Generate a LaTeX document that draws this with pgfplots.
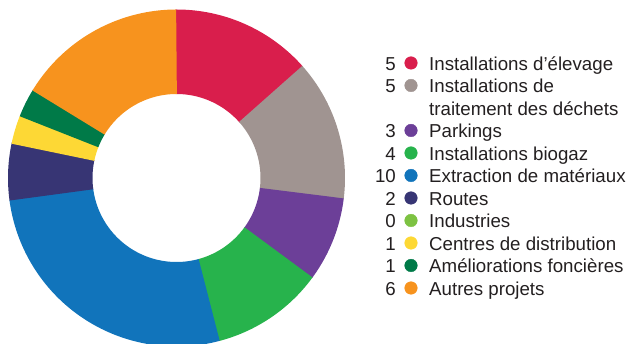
\documentclass[border=0pt]{standalone}
\usepackage{fontspec}
\setmainfont{Liberation Sans}
\usepackage{pgfplots}
\pgfplotsset{compat=1.18}
\definecolor{cElev}{HTML}{D91E4C}
\definecolor{cDech}{HTML}{A09491}
\definecolor{cPark}{HTML}{6C3F98}
\definecolor{cBio}{HTML}{27B34C}
\definecolor{cExtr}{HTML}{1174BB}
\definecolor{cRout}{HTML}{373574}
\definecolor{cInd}{HTML}{7DC242}
\definecolor{cCent}{HTML}{FDD835}
\definecolor{cAmel}{HTML}{007A48}
\definecolor{cAutr}{HTML}{F7931E}
\definecolor{txt}{HTML}{231F20}
\tikzset{
  lnum/.style={anchor=base east, inner sep=0pt, text=txt, font=\fontsize{18.7bp}{22.5bp}\selectfont},
  ltxt/.style={anchor=base west, inner sep=0pt, text=txt, font=\fontsize{18.7bp}{22.5bp}\selectfont},
}
\pgfplotsset{ldot/.style={only marks, mark=*, mark size=6.3bp, draw=none, fill=#1, color=#1, mark options={draw=none, fill=#1}}}
\begin{document}
\begin{tikzpicture}
\useasboundingbox (0,0) rectangle (630bp,344bp);
\begin{axis}[at={(0,0)}, anchor=south west, width=630bp, height=344bp,
  scale only axis, xmin=0, xmax=630, ymin=0, ymax=344, hide axis, clip=true]
% donut: values (total 37), clockwise from top
\gdef\cum{0}
\foreach \v/\c in {5/cElev,5/cDech,3/cPark,4/cBio,10/cExtr,2/cRout,0/cInd,1/cCent,1/cAmel,6/cAutr}{
  \pgfmathsetmacro\angA{90-\cum*360/37+0.4}
  \pgfmathsetmacro\angB{90-(\cum+\v)*360/37}
  \pgfmathsetmacro\newcum{\cum+\v}
  \xdef\cum{\newcum}
  \ifnum\v>0
    \edef\tmp{\noexpand\addplot[draw=\c, line width=84.5bp, line cap=butt, line join=round, domain=\angB:\angA, samples=90] ({176.5+126.25*cos(x)},{166+126.25*sin(x)});}
    \tmp
  \fi
}
% legend markers
\addplot[ldot=cElev] coordinates {(411,281)};
\addplot[ldot=cDech] coordinates {(411,258.5)};
\addplot[ldot=cPark] coordinates {(411,213.5)};
\addplot[ldot=cBio] coordinates {(411,191)};
\addplot[ldot=cExtr] coordinates {(411,168.5)};
\addplot[ldot=cRout] coordinates {(411,146)};
\addplot[ldot=cInd] coordinates {(411,123.5)};
\addplot[ldot=cCent] coordinates {(411,101)};
\addplot[ldot=cAmel] coordinates {(411,78.5)};
\addplot[ldot=cAutr] coordinates {(411,56)};
% legend numbers
\node[lnum] at (axis cs:396,273.5) {5};
\node[lnum] at (axis cs:396,251) {5};
\node[lnum] at (axis cs:396,206) {3};
\node[lnum] at (axis cs:396,183.5) {4};
\node[lnum] at (axis cs:396,161) {10};
\node[lnum] at (axis cs:396,138.5) {2};
\node[lnum] at (axis cs:396,116) {0};
\node[lnum] at (axis cs:396,93.5) {1};
\node[lnum] at (axis cs:396,71) {1};
\node[lnum] at (axis cs:396,48.5) {6};
% legend labels
\node[ltxt] at (axis cs:429,273.5) {Installations d’élevage};
\node[ltxt] at (axis cs:429,251) {Installations de};
\node[ltxt] at (axis cs:429,228.5) {traitement des déchets};
\node[ltxt] at (axis cs:429,206) {Parkings};
\node[ltxt] at (axis cs:429,183.5) {Installations biogaz};
\node[ltxt] at (axis cs:429,161) {Extraction de matériaux};
\node[ltxt] at (axis cs:429,138.5) {Routes};
\node[ltxt] at (axis cs:429,116) {Industries};
\node[ltxt] at (axis cs:429,93.5) {Centres de distribution};
\node[ltxt] at (axis cs:429,71) {Améliorations foncières};
\node[ltxt] at (axis cs:429,48.5) {Autres projets};
\end{axis}
\end{tikzpicture}
\end{document}
